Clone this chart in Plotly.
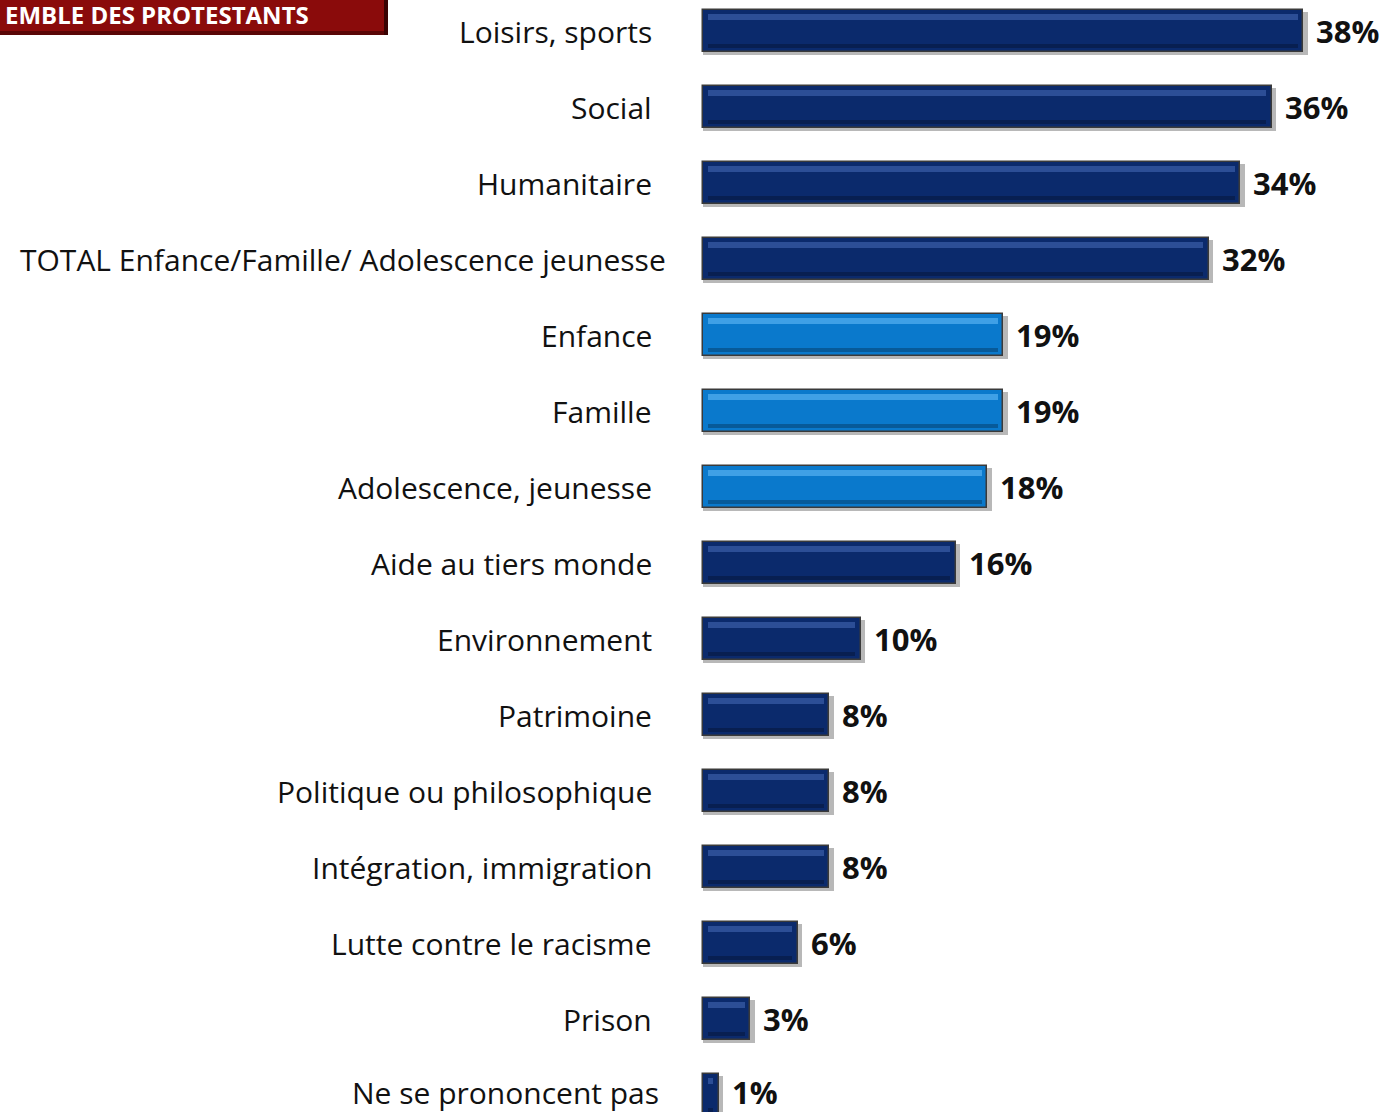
import plotly.graph_objects as go

categories = ["Loisirs, sports", "Social", "Humanitaire",
              "TOTAL Enfance/Famille/ Adolescence jeunesse",
              "Enfance", "Famille", "Adolescence, jeunesse",
              "Aide au tiers monde", "Environnement", "Patrimoine",
              "Politique ou philosophique", "Intégration, immigration",
              "Lutte contre le racisme", "Prison", "Ne se prononcent pas"]
values = [38, 36, 34, 32, 19, 19, 18, 16, 10, 8, 8, 8, 6, 3, 1]
highlight = [False, False, False, False, True, True, True,
             False, False, False, False, False, False, False, False]
title_text = "EMBLE DES PROTESTANTS"

W, H = 1385, 1112
DARK = "#0b2a6c"
LIGHT = "#0a79cc"
DARK_HI = "#2c4e96"
LIGHT_HI = "#3fa0e6"

pos = list(range(len(categories)))
colors = [LIGHT if h else DARK for h in highlight]
hi_colors = [LIGHT_HI if h else DARK_HI for h in highlight]

fig = go.Figure()
# shadow
fig.add_trace(go.Bar(y=pos, x=[v + 0.25 for v in values], base=0.15, orientation="h",
                     width=0.56, offset=-0.25, marker=dict(color="rgba(0,0,0,0.28)", line=dict(width=0)),
                     hoverinfo="skip", showlegend=False))
# main bars
fig.add_trace(go.Bar(y=pos, x=values, base=0.12, orientation="h", width=0.56,
                     marker=dict(color=colors, line=dict(color="#3a3a3a", width=1.5)),
                     showlegend=False))
# bevel highlight stripe
fig.add_trace(go.Bar(y=pos, x=[max(v - 0.7, 0.2) for v in values], base=0.47, orientation="h",
                     width=0.08, offset=-0.22,
                     marker=dict(color=hi_colors, line=dict(width=0)),
                     hoverinfo="skip", showlegend=False))
# bottom dark stripe
fig.add_trace(go.Bar(y=pos, x=[max(v - 0.7, 0.2) for v in values], base=0.47, orientation="h",
                     width=0.06, offset=0.17,
                     marker=dict(color="rgba(0,0,0,0.25)", line=dict(width=0)),
                     hoverinfo="skip", showlegend=False))

last = len(categories) - 1
annotations = []
for i, (c, v) in enumerate(zip(categories, values)):
    xr = 654
    if c.startswith("TOTAL"):
        xr = 668
    elif c.startswith("Ne se"):
        xr = 661
    ys = 3 if i == last else 0
    annotations.append(dict(x=xr / W, xref="paper", y=i, yref="y", text=c,
                            showarrow=False, xanchor="right", yanchor="middle", yshift=ys,
                            font=dict(family="Open Sans", size=30, color="#111")))
    annotations.append(dict(x=v, xref="x", y=i, yref="y", text=f"<b>{v}%</b>",
                            showarrow=False, xanchor="left", yanchor="middle", xshift=13, yshift=ys,
                            font=dict(family="Open Sans", size=31, color="#111")))

annotations.append(dict(x=0, xref="paper", y=1 - 14 / H, yref="paper",
                        text=f"<b>{title_text}</b>", showarrow=False,
                        xanchor="left", yanchor="middle", xshift=3,
                        font=dict(family="Open Sans", size=24, color="white")))

shapes = [
    dict(type="rect", xref="paper", yref="paper", x0=0, x1=388 / W,
         y0=1 - 35 / H, y1=1, fillcolor="#8a0b0b", line=dict(width=0), layer="below"),
    dict(type="rect", xref="paper", yref="paper", x0=0, x1=388 / W,
         y0=1 - 35 / H, y1=1 - 31 / H, fillcolor="#5a0606", line=dict(width=0), layer="below"),
    dict(type="rect", xref="paper", yref="paper", x0=384 / W, x1=388 / W,
         y0=1 - 35 / H, y1=1, fillcolor="#3a0303", line=dict(width=0), layer="below"),
]

px_per = 15.8
x0 = -701 / px_per
x1 = x0 + W / px_per
y0 = -31 / 76
y1 = y0 + H / 76

fig.update_layout(
    width=W, height=H, margin=dict(l=0, r=0, t=0, b=0),
    paper_bgcolor="white", plot_bgcolor="white",
    barmode="overlay", bargap=0,
    xaxis=dict(range=[x0, x1], visible=False, fixedrange=True),
    yaxis=dict(range=[y1, y0], visible=False, fixedrange=True),
    annotations=annotations, shapes=shapes,
)

fig.write_html("out.html", config={"displayModeBar": False},
               post_script="document.body.style.margin='0';document.body.style.overflow='hidden';")
